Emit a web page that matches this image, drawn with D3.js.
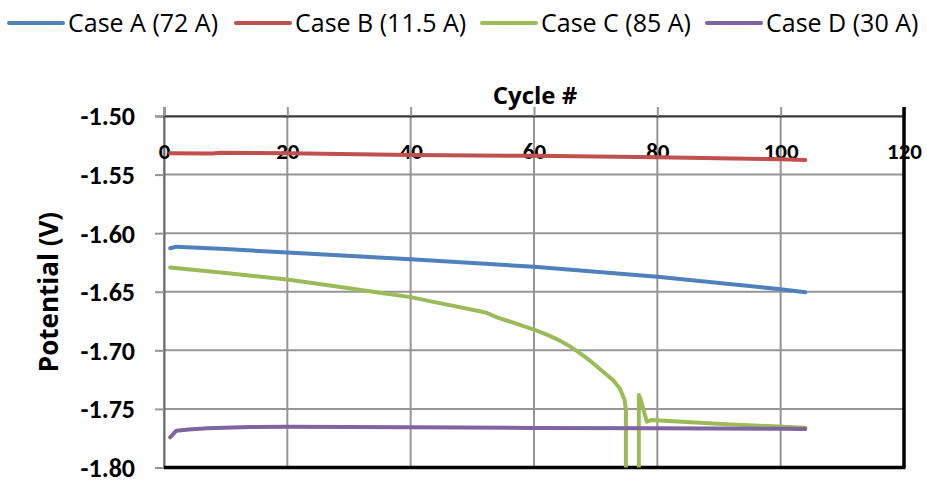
<!DOCTYPE html>
<html>
<head>
<meta charset="utf-8">
<script src="https://cdn.jsdelivr.net/npm/d3@7"></script>
<style>
  body { margin: 0; background: #fff; }
  svg text { font-family: Calibri, Carlito, Lato, sans-serif; fill: #000; }
</style>
</head>
<body>
<script>
// Series data (cycle number, potential in V)
var seriesNames = ['Case A (72 A)', 'Case B (11.5 A)', 'Case C (85 A)', 'Case D (30 A)'];
var seriesColors = ['#4F81BD', '#C0504D', '#9BBB59', '#8064A2'];

var cyclesA = [1, 2, 10, 20, 40, 60, 80, 100, 104];
var potentialA = [-1.6129, -1.6115, -1.6135, -1.6166, -1.6222, -1.6287, -1.6371, -1.6479, -1.6504];

var cyclesB = [1, 8, 9, 20, 40, 60, 80, 100, 104];
var potentialB = [-1.5318, -1.5320, -1.5313, -1.5318, -1.5333, -1.5340, -1.5352, -1.5370, -1.5375];

var cyclesC = [1, 10, 20, 26.9, 35, 40, 43.1, 51.2, 52.3, 54, 57.7, 60, 62.1, 64.2, 66, 67.4, 69, 70.4, 72.8, 73.9,
  74.7, 74.9, 74.9, 77.0, 77.0, 77.3, 78.3, 79.0, 91.2, 104];
var potentialC = [-1.6294, -1.6340, -1.6395, -1.6446, -1.6509, -1.6546, -1.6580, -1.6666, -1.6680, -1.6718, -1.6782,
  -1.6823, -1.6866, -1.6917, -1.6972, -1.7022, -1.7085, -1.7147, -1.7253, -1.7324,
  -1.7424, -1.7509, -1.8500, -1.8500, -1.7381, -1.7420, -1.7609, -1.7595, -1.7631, -1.7660];

var cyclesD = [1, 2, 4, 7, 14, 20, 40, 60, 80, 100, 104];
var potentialD = [-1.7742, -1.7686, -1.7675, -1.7665, -1.7655, -1.7653, -1.7657, -1.7662, -1.7666, -1.7670, -1.7672];

var xTicks = [0, 20, 40, 60, 80, 100, 120];
var yTicks = [-1.50, -1.55, -1.60, -1.65, -1.70, -1.75, -1.80];

var allCycles = [cyclesA, cyclesB, cyclesC, cyclesD];
var allPotentials = [potentialA, potentialB, potentialC, potentialD];

var width = 927, height = 480;
var plot = {left: 164, right: 904, top: 116, bottom: 467.5};

var svg = d3.select('body').append('svg')
  .attr('width', width).attr('height', height);

var x = d3.scaleLinear().domain([0, 120]).range([plot.left, plot.right]);
var y = d3.scaleLinear().domain([-1.80, -1.50]).range([plot.bottom, plot.top]);

//Gridlines
svg.append('g').selectAll('line.h').data(yTicks).enter().append('line')
  .attr('x1', plot.left).attr('x2', plot.right)
  .attr('y1', function(d){ return y(d); }).attr('y2', function(d){ return y(d); })
  .attr('stroke', '#969696').attr('stroke-width', 2);
svg.append('g').selectAll('line.v').data(xTicks).enter().append('line')
  .attr('x1', function(d){ return x(d); }).attr('x2', function(d){ return x(d); })
  .attr('y1', plot.top).attr('y2', plot.bottom)
  .attr('stroke', '#969696').attr('stroke-width', 2);

//Y axis on the left, ticks outward
var yAxis = d3.axisLeft(y).tickValues(yTicks).tickSize(9).tickPadding(20)
  .tickFormat(d3.format('.2f'));
var gy = svg.append('g').attr('transform', 'translate(' + plot.left + ',0)').call(yAxis);
gy.select('.domain').attr('stroke', '#6e6e6e').attr('stroke-width', 2);
gy.selectAll('.tick line').attr('stroke', '#969696').attr('stroke-width', 2);
gy.selectAll('.tick text').attr('font-size', 26).attr('font-weight', 'bold')
  .attr('dy', '0.34em')
  .text(function(d){ return d3.format('.2f')(d).replace('−', '-'); });

//X axis at the top, ticks upward, labels inside the plot
var xAxis = d3.axisTop(x).tickValues(xTicks).tickSize(9).tickFormat(d3.format('d'));
var gx = svg.append('g').attr('transform', 'translate(0,' + plot.top + ')').call(xAxis);
gx.select('.domain').attr('stroke', '#3a3a3a').attr('stroke-width', 2);
gx.selectAll('.tick line').attr('stroke', '#969696').attr('stroke-width', 2);
gx.selectAll('.tick text').attr('font-size', 23).attr('font-weight', 'bold')
  .attr('y', 43).attr('dy', 0);

//Heavy black bottom and right borders
svg.append('line').attr('x1', plot.left).attr('x2', plot.right + 1.5)
  .attr('y1', plot.bottom).attr('y2', plot.bottom)
  .attr('stroke', '#000').attr('stroke-width', 3.5);
svg.append('line').attr('x1', plot.right).attr('x2', plot.right)
  .attr('y1', plot.top - 9).attr('y2', plot.bottom)
  .attr('stroke', '#000').attr('stroke-width', 3.5);

//Series lines
svg.append('clipPath').attr('id', 'plotclip').append('rect')
  .attr('x', plot.left).attr('y', plot.top)
  .attr('width', plot.right - plot.left).attr('height', plot.bottom - plot.top);

var line = d3.line()
  .x(function(d){ return x(d[0]); })
  .y(function(d){ return y(d[1]); });

var lines = svg.append('g').attr('clip-path', 'url(#plotclip)');
allCycles.forEach(function(c, i){
  var pts = c.map(function(v, j){ return [v, allPotentials[i][j]]; });
  lines.append('path').datum(pts)
    .attr('d', line)
    .attr('fill', 'none')
    .attr('stroke', seriesColors[i])
    .attr('stroke-width', 4)
    .attr('stroke-linejoin', 'round')
    .attr('stroke-linecap', 'round');
});

//Axis titles
svg.append('text').attr('x', 535).attr('y', 104)
  .attr('text-anchor', 'middle').attr('font-size', 24).attr('font-weight', 'bold')
  .style('font-family', '"Open Sans", sans-serif')
  .text('Cycle #');
svg.append('text')
  .attr('transform', 'translate(58,292) rotate(-90)')
  .attr('text-anchor', 'middle').attr('font-size', 26).attr('font-weight', 'bold')
  .style('font-family', '"Open Sans", sans-serif')
  .text('Potential (V)');

//Legend
var legendX = [9, 236, 482, 707];
var legend = svg.append('g').selectAll('g').data(seriesNames).enter().append('g')
  .attr('transform', function(d, i){ return 'translate(' + legendX[i] + ',23)'; });
legend.append('line').attr('x1', 0).attr('x2', 54).attr('y1', 0).attr('y2', 0)
  .attr('stroke', function(d, i){ return seriesColors[i]; })
  .attr('stroke-width', 4).attr('stroke-linecap', 'round');
legend.append('text').attr('x', 59).attr('y', 9).attr('font-size', 25)
  .style('font-family', '"Open Sans", sans-serif')
  .text(function(d){ return d; });
</script>
</body>
</html>
